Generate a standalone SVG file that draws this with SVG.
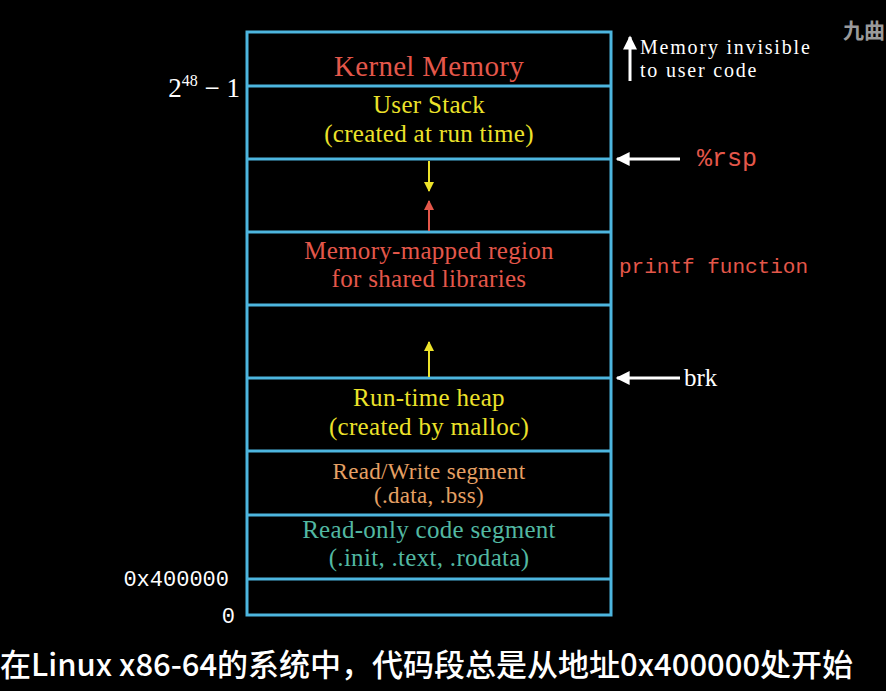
<svg xmlns="http://www.w3.org/2000/svg" width="886" height="691" viewBox="0 0 886 691">
<style>
.box{fill:none;stroke:#4db6df;stroke-width:3}
.div{stroke:#4db6df;stroke-width:3}
.serif{font-family:"Liberation Serif","DejaVu Serif",serif;text-anchor:middle;letter-spacing:0.3px}
.rs{font-family:"Liberation Serif","DejaVu Serif",serif;fill:#ffffff}
.mono{font-family:"Liberation Mono","DejaVu Sans Mono",monospace}
.red{fill:#e4574a}
.yellow{fill:#ece22a}
.orange{fill:#e6a064}
.teal{fill:#52b8a2}
.white{fill:#ffffff}
</style>
<defs>
<marker id="ahw" viewBox="0 0 10 10" refX="9" refY="5" markerWidth="16" markerHeight="14" markerUnits="userSpaceOnUse" orient="auto"><path d="M0,0 L10,5 L0,10 z" fill="#ffffff"/></marker>
<marker id="ahy" viewBox="0 0 10 10" refX="9" refY="5" markerWidth="10" markerHeight="10" markerUnits="userSpaceOnUse" orient="auto"><path d="M0,0 L10,5 L0,10 z" fill="#ece22a"/></marker>
<marker id="ahr" viewBox="0 0 10 10" refX="9" refY="5" markerWidth="10" markerHeight="10" markerUnits="userSpaceOnUse" orient="auto"><path d="M0,0 L10,5 L0,10 z" fill="#e4574a"/></marker>
</defs>
<rect x="0" y="0" width="886" height="691" fill="#000000"/>

<g id="memory-column">
<rect class="box" x="247" y="32" width="364" height="583"/>
<line class="div" x1="247" y1="86" x2="611" y2="86"/>
<line class="div" x1="247" y1="159" x2="611" y2="159"/>
<line class="div" x1="247" y1="232" x2="611" y2="232"/>
<line class="div" x1="247" y1="305" x2="611" y2="305"/>
<line class="div" x1="247" y1="378" x2="611" y2="378"/>
<line class="div" x1="247" y1="451" x2="611" y2="451"/>
<line class="div" x1="247" y1="515" x2="611" y2="515"/>
<line class="div" x1="247" y1="579" x2="611" y2="579"/>
</g>

<g id="kernel"><text class="serif red" x="429" y="76" font-size="29">Kernel Memory</text></g>
<g id="user-stack">
<text class="serif yellow" x="429" y="113" font-size="25">User Stack</text>
<text class="serif yellow" x="429" y="142" font-size="25">(created at run time)</text>
</g>
<g id="mmap">
<text class="serif red" x="429" y="259" font-size="25">Memory-mapped region</text>
<text class="serif red" x="429" y="287" font-size="25">for shared libraries</text>
</g>
<g id="heap">
<text class="serif yellow" x="429" y="406" font-size="25">Run-time heap</text>
<text class="serif yellow" x="429" y="435" font-size="25">(created by malloc)</text>
</g>
<g id="rw">
<text class="serif orange" x="429" y="479" font-size="23" letter-spacing="0.9">Read/Write segment</text>
<text class="serif orange" x="429" y="503" font-size="23" letter-spacing="0.9">(.data, .bss)</text>
</g>
<g id="ro">
<text class="serif teal" x="429" y="538" font-size="25">Read-only code segment</text>
<text class="serif teal" x="429" y="566" font-size="25">(.init, .text, .rodata)</text>
</g>

<g id="addr-labels">
<text class="rs" x="240" y="97" font-size="27" text-anchor="end">2<tspan font-size="16" dy="-11">48</tspan><tspan dy="11"> − 1</tspan></text>
<text class="mono white" x="229" y="586" font-size="22" text-anchor="end">0x400000</text>
<text class="mono white" x="235" y="623" font-size="22" text-anchor="end">0</text>
</g>

<g id="right-labels">
<text class="rs" x="640" y="54" font-size="20" letter-spacing="1.8">Memory invisible</text>
<text class="rs" x="640" y="77" font-size="20" letter-spacing="1.8">to user code</text>
<text class="mono red" x="697" y="166" font-size="25">%rsp</text>
<text class="mono red" x="619" y="273" font-size="21">printf function</text>
<text class="rs" x="684" y="386" font-size="25">brk</text>
</g>

<g id="connectors">
<line x1="630" y1="81" x2="630" y2="37" stroke="#fff" stroke-width="3" marker-end="url(#ahw)"/>
<line x1="680" y1="159" x2="617" y2="159" stroke="#fff" stroke-width="3" marker-end="url(#ahw)"/>
<line x1="680" y1="378" x2="617" y2="378" stroke="#fff" stroke-width="3" marker-end="url(#ahw)"/>
<line x1="429" y1="161" x2="429" y2="191" stroke="#ece22a" stroke-width="2" marker-end="url(#ahy)"/>
<line x1="429" y1="231" x2="429" y2="201" stroke="#e4574a" stroke-width="2" marker-end="url(#ahr)"/>
<line x1="429" y1="377" x2="429" y2="342" stroke="#ece22a" stroke-width="2" marker-end="url(#ahy)"/>
</g>

<text x="843" y="38" font-family="Noto Sans CJK SC, sans-serif" font-size="21" font-weight="bold" fill="#9a9a9a">九曲</text>
<text x="0" y="676" font-family="Noto Sans CJK SC, Noto Sans, sans-serif" font-size="31" font-weight="500" fill="#fff">在Linux x86-64的系统中，代码段总是从地址0x400000处开始</text>
</svg>
